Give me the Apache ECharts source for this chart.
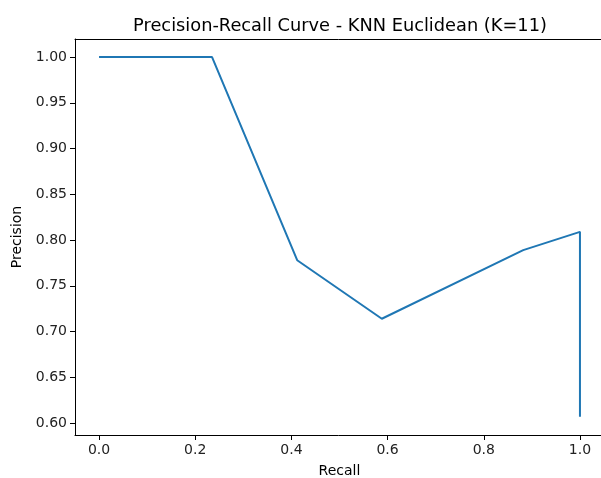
<!DOCTYPE html>
<html>
<head>
<meta charset="utf-8">
<script src="https://cdn.jsdelivr.net/npm/echarts@6/dist/echarts.min.js"></script>
<style>
  html, body { margin: 0; padding: 0; background: #fff; }
  #pr_curve { width: 601px; height: 478px; }
</style>
</head>
<body>
<div id="pr_curve"></div>
<script>
// recall / precision points of the curve
const recall = [0.0, 0.235, 0.412, 0.588, 0.882, 1.0, 1.0];
const precision = [1.0, 1.0, 0.778, 0.714, 0.789, 0.809, 0.607];
const xTicks = [0.0, 0.2, 0.4, 0.6, 0.8, 1.0];
const yTicks = [0.60, 0.65, 0.70, 0.75, 0.80, 0.85, 0.90, 0.95, 1.00];

let myChart = echarts.init(document.getElementById('pr_curve'));
const fontFam = 'DejaVu Sans';
let option = {
    animation: false,
    title: {
        text: 'Precision-Recall Curve - KNN Euclidean (K=11)',
        left: 335,
        textAlign: 'center',
        top: 12,
        textStyle: { fontFamily: fontFam, fontSize: 17.8, fontWeight: 'normal', color: '#000' }
    },
    grid: {
        left: 75, top: 39, bottom: 43, width: 529,
        outerBoundsMode: 'none',
        containLabel: false,
        show: false
    },
    xAxis: [{
        type: 'value',
        min: -0.05, max: 1.05,
        name: 'Recall',
        nameLocation: 'middle',
        nameGap: 29,
        nameTextStyle: { fontFamily: fontFam, fontSize: 14, color: '#000' },
        splitLine: { show: false },
        axisLine: { show: true, onZero: false, lineStyle: { color: '#000', width: 1 } },
        axisTick: { show: true, length: 5, inside: false, customValues: xTicks, lineStyle: { color: '#000' } },
        axisLabel: {
            customValues: xTicks,
            margin: 8,
            fontFamily: fontFam, fontSize: 14, color: '#222',
            formatter: v => v.toFixed(1)
        }
    }, {
        // top spine only
        type: 'value',
        position: 'top',
        min: -0.05, max: 1.05,
        axisLine: { show: true, onZero: false, lineStyle: { color: '#000', width: 1 } },
        axisTick: { show: false },
        axisLabel: { show: false },
        splitLine: { show: false }
    }],
    yAxis: {
        type: 'value',
        min: 0.587, max: 1.0197,
        name: 'Precision',
        nameLocation: 'middle',
        nameGap: 51,
        nameTextStyle: { fontFamily: fontFam, fontSize: 14, color: '#000' },
        splitLine: { show: false },
        axisLine: { show: true, onZero: false, lineStyle: { color: '#000', width: 1 } },
        axisTick: { show: true, length: 5, inside: false, customValues: yTicks, lineStyle: { color: '#000' } },
        axisLabel: {
            customValues: yTicks,
            margin: 8,
            fontFamily: fontFam, fontSize: 14, color: '#222',
            formatter: v => v.toFixed(2)
        }
    },
    series: [{
        type: 'line',
        data: recall.map((r, i) => [r, precision[i]]),
        showSymbol: false,
        symbol: 'none',
        lineStyle: { color: '#1f77b4', width: 2 }
    }]
};
myChart.setOption(option);
</script>
</body>
</html>
